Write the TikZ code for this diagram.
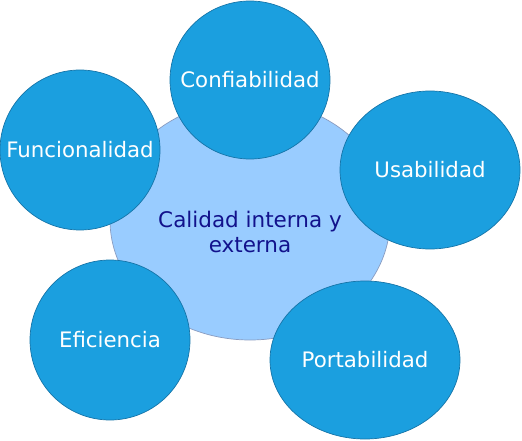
\documentclass[tikz,border=0pt]{standalone}
\usepackage{fontspec}
\setmainfont{DejaVu Sans}
\usetikzlibrary{shapes.geometric}
\definecolor{outerfill}{HTML}{1B9FDF}
\definecolor{outerline}{HTML}{1574A8}
\definecolor{centerfill}{HTML}{99CCFF}
\definecolor{centerline}{HTML}{8A9CC0}
\definecolor{centertext}{HTML}{12128C}
\tikzset{
  outerc/.style={ellipse, draw=outerline, fill=outerfill, line width=0.7pt, inner sep=0pt},
  outert/.style={text=white, font=\fontsize{21.3}{25}\selectfont, inner sep=0pt},
  centerc/.style={ellipse, draw=centerline, fill=centerfill, line width=0.7pt, inner sep=0pt},
}
\begin{document}
\begin{tikzpicture}[x=1pt,y=-1pt]
\useasboundingbox (0,0) rectangle (522,441);
\node[centerc, minimum width=280, minimum height=240] (center) at (250,220) {};
\node[text=centertext, align=center, font=\fontsize{21.5}{25}\selectfont] (ctext) at (250,232) {Calidad interna y\\externa};
\node[outerc, minimum width=160, minimum height=158] (conf) at (250,80) {};
\node[outert] (conft) at (conf) {Confiabilidad};
\node[outerc, minimum width=160, minimum height=160] (func) at (80,150) {};
\node[outert] (funct) at (func) {Funcionalidad};
\node[outerc, minimum width=180, minimum height=158] (usab) at (430,170) {};
\node[outert] (usabt) at (usab) {Usabilidad};
\node[outerc, minimum width=160, minimum height=160] (efic) at (110,340) {};
\node[outert] (efict) at (efic) {Eficiencia};
\node[outerc, minimum width=190, minimum height=158] (port) at (365,360) {};
\node[outert] (portt) at (port) {Portabilidad};
\end{tikzpicture}
\end{document}
